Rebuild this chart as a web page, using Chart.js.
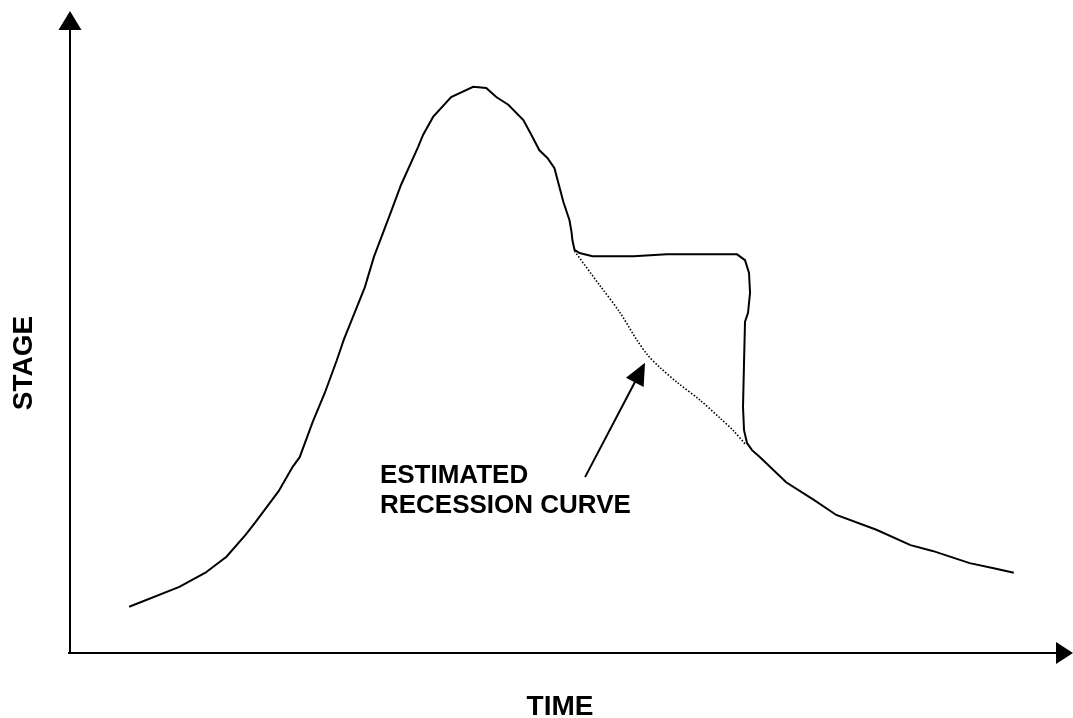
<!DOCTYPE html>
<html>
<head>
<meta charset="utf-8">
<title>Stage hydrograph</title>
<script src="https://cdn.jsdelivr.net/npm/chart.js@4.4.0/dist/chart.umd.min.js"></script>
<style>
  html, body { margin: 0; padding: 0; background: #fff; }
  #wrap { width: 1073px; height: 718px; }
</style>
</head>
<body>
<div id="wrap"><canvas id="hydroChart" width="1073" height="718"></canvas></div>
<script>
// Observed stage trace (time, stage) in arbitrary units
const observedTime = [
  5.9, 10.9, 13.5, 15.6, 17.5, 18.4, 20.8, 22.2, 22.9, 24.2, 25.4, 26.6, 27.3, 28.4,
  29.4, 30.3, 32.0, 33.0, 34.7, 35.2, 36.2, 38.0, 40.2, 41.5, 42.5, 43.7, 45.2, 45.9,
  46.8, 47.6, 48.3, 49.2, 49.8, 50.0, 50.1, 50.3, 50.8, 52.1, 56.2, 59.5, 66.5, 67.3,
  67.7, 67.8, 67.6, 67.3, 67.2, 67.1, 67.2, 67.5, 68.0, 68.8, 71.4, 74.2, 76.4, 80.4,
  83.8, 86.0, 89.7, 92.1, 94.1
];
const observedStage = [
  7.2, 10.3, 12.5, 15.0, 18.4, 20.2, 25.2, 29.0, 30.5, 36.0, 40.5, 45.6, 48.8, 53.1,
  57.0, 61.7, 68.7, 72.9, 78.8, 80.7, 83.5, 86.6, 88.2, 88.0, 86.6, 85.4, 83.0, 81.0,
  78.3, 77.1, 75.5, 70.2, 67.4, 65.6, 64.2, 62.8, 62.3, 61.8, 61.8, 62.1, 62.1, 61.2,
  59.2, 56.1, 53.0, 51.6, 45.2, 38.3, 34.7, 32.7, 31.6, 30.5, 26.6, 23.8, 21.5, 19.2,
  16.8, 15.9, 14.0, 13.2, 12.5
];

// Estimated recession curve (dotted)
const recessionTime = [50.3, 52.8, 54.8, 56.5, 57.6, 58.8, 60.5, 62.8, 64.8, 66.1, 67.4];
const recessionStage = [62.6, 57.3, 53.1, 48.8, 46.4, 44.5, 42.2, 39.4, 36.6, 34.7, 32.4];

// Axis ranges
const timeRange = [0, 100];
const stageRange = [0, 100];

// Annotation: label lines and the pointer arrow (tail -> head), in data units
const noteLines = ["ESTIMATED", "RECESSION CURVE"];
const noteAnchor = [30.9, 26.5];
const noteArrowTail = [51.35, 27.4];
const noteArrowHead = [57.33, 45.2];

const xTitle = "TIME";
const yTitle = "STAGE";

const FONT = '"Liberation Sans", Arial, Helvetica, sans-serif';

function toPoints(xs, ys) {
  return xs.map((x, i) => ({ x: x, y: ys[i] }));
}

function arrowHead(ctx, x0, y0, x1, y1, len, half) {
  const ang = Math.atan2(y1 - y0, x1 - x0);
  ctx.beginPath();
  ctx.moveTo(x1, y1);
  ctx.lineTo(x1 - len * Math.cos(ang) + half * Math.sin(ang), y1 - len * Math.sin(ang) - half * Math.cos(ang));
  ctx.lineTo(x1 - len * Math.cos(ang) - half * Math.sin(ang), y1 - len * Math.sin(ang) + half * Math.cos(ang));
  ctx.closePath();
  ctx.fill();
}

// Draws the arrowed axes, axis titles and the annotation
const sketchDecor = {
  id: "sketchDecor",
  afterDraw(chart) {
    const ctx = chart.ctx;
    const area = chart.chartArea;
    const xs = chart.scales.x;
    const ys = chart.scales.y;
    ctx.save();
    ctx.strokeStyle = "#000";
    ctx.fillStyle = "#000";
    ctx.lineWidth = 2;

    // axes
    const ox = area.left, oy = area.bottom;
    ctx.beginPath();
    ctx.moveTo(ox, oy);
    ctx.lineTo(ox, area.top + 14);
    ctx.moveTo(ox, oy);
    ctx.lineTo(area.right - 12, oy);
    ctx.stroke();
    arrowHead(ctx, ox, oy, ox, area.top, 19, 11.5);
    arrowHead(ctx, ox, oy, area.right, oy, 17, 11);

    // small tick at origin
    ctx.beginPath();
    ctx.moveTo(ox - 2, oy);
    ctx.lineTo(ox, oy);
    ctx.stroke();

    // axis titles
    ctx.font = "bold 28px " + FONT;
    ctx.textAlign = "center";
    ctx.textBaseline = "alphabetic";
    ctx.fillText(xTitle, ox + 490, 715);
    ctx.save();
    ctx.translate(32, 363);
    ctx.rotate(-Math.PI / 2);
    ctx.fillText(yTitle, 0, 0);
    ctx.restore();

    // annotation text
    ctx.font = "bold 26px " + FONT;
    ctx.textAlign = "left";
    const tx = xs.getPixelForValue(noteAnchor[0]);
    const ty = ys.getPixelForValue(noteAnchor[1]);
    noteLines.forEach((line, i) => ctx.fillText(line, tx, ty + i * 30));

    // annotation arrow
    const ax0 = xs.getPixelForValue(noteArrowTail[0]);
    const ay0 = ys.getPixelForValue(noteArrowTail[1]);
    const ax1 = xs.getPixelForValue(noteArrowHead[0]);
    const ay1 = ys.getPixelForValue(noteArrowHead[1]);
    const ang = Math.atan2(ay1 - ay0, ax1 - ax0);
    ctx.lineWidth = 2;
    ctx.beginPath();
    ctx.moveTo(ax0, ay0);
    ctx.lineTo(ax1 - 16 * Math.cos(ang), ay1 - 16 * Math.sin(ang));
    ctx.stroke();
    arrowHead(ctx, ax0, ay0, ax1, ay1, 22, 10);

    ctx.restore();
  }
};

new Chart(document.getElementById("hydroChart"), {
  type: "scatter",
  data: {
    datasets: [
      {
        label: "Observed stage",
        data: toPoints(observedTime, observedStage),
        showLine: true,
        borderColor: "#000",
        borderWidth: 2,
        pointRadius: 0,
        tension: 0,
        fill: false,
      },
      {
        label: "Estimated recession curve",
        data: toPoints(recessionTime, recessionStage),
        showLine: true,
        borderColor: "#000",
        borderWidth: 1.6,
        borderDash: [1.5, 1.8],
        pointRadius: 0,
        tension: 0.3,
        fill: false,
      },
    ],
  },
  options: {
    responsive: false,
    animation: false,
    layout: { padding: { left: 70, right: 0, top: 11, bottom: 65 } },
    plugins: {
      legend: { display: false },
      tooltip: { enabled: false },
    },
    scales: {
      x: { type: "linear", min: timeRange[0], max: timeRange[1], display: false },
      y: { type: "linear", min: stageRange[0], max: stageRange[1], display: false },
    },
  },
  plugins: [sketchDecor],
});
</script>
</body>
</html>
